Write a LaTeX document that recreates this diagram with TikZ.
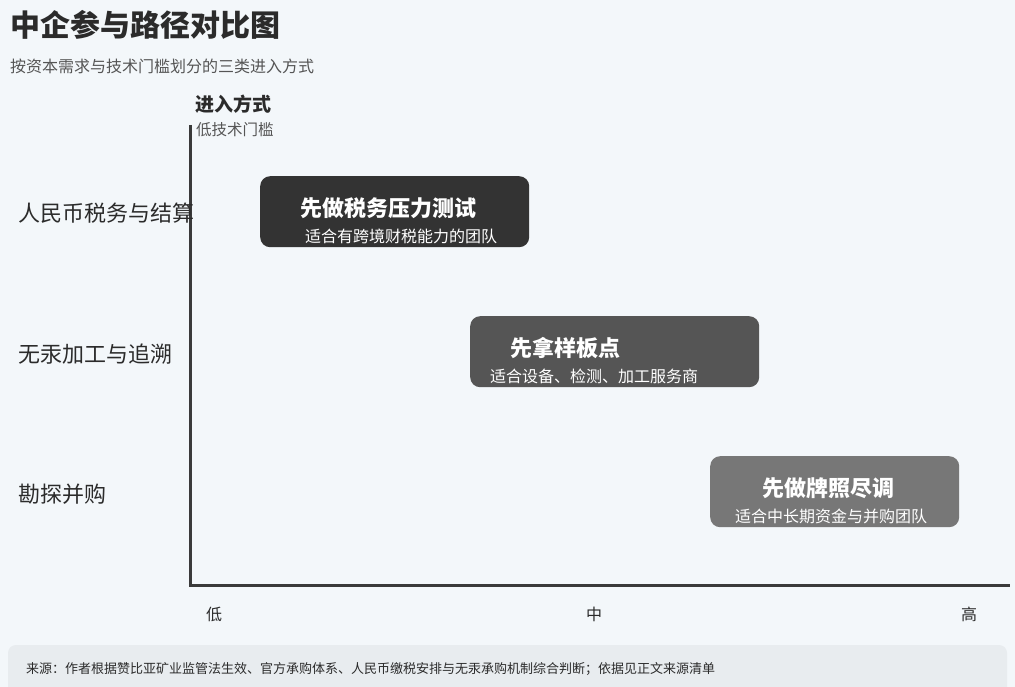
\documentclass[tikz,border=0pt]{standalone}
\usepackage{fontspec}
\setmainfont{Noto Sans CJK SC}
\usetikzlibrary{positioning}
\definecolor{pageBg}{HTML}{F3F7FA}
\definecolor{footBg}{HTML}{E8ECEF}
\definecolor{inkDark}{HTML}{2B2B2B}
\definecolor{inkMid}{HTML}{555555}
\definecolor{axisInk}{HTML}{3A3A3A}
\definecolor{pathA}{HTML}{333333}
\definecolor{pathB}{HTML}{555555}
\definecolor{pathC}{HTML}{777777}
\newcommand{\fsz}[1]{\fontsize{#1}{#1}\selectfont}
\tikzset{
  txt/.style={inner sep=0pt, anchor=west, text=inkDark},
  pathbox/.style={rectangle, rounded corners=10pt, anchor=north west, minimum height=71pt, inner sep=0pt},
  boxtitle/.style={inner sep=0pt, anchor=west, text=white, font=\fsz{22}\bfseries},
  boxnote/.style={inner sep=0pt, anchor=west, text=white, font=\fsz{16}},
  tick/.style={inner sep=0pt, text=inkDark, font=\fsz{16}}
}
\begin{document}
\begin{tikzpicture}
\begin{scope}[x=1pt, y=-1pt]
  % Page and footer band
  \fill[pageBg] (0,0) rectangle (1015,687);
  \useasboundingbox (0,0) rectangle (1015,687);
  \fill[footBg, rounded corners=8pt] (8,645) rectangle (1007,700);
  % Title block
  \node[txt, font=\fsz{30}\bfseries] (title) at (10,25) {中企参与路径对比图};
  \node[txt, text=inkMid, font=\fsz{16}] (subtitle) at (10,66) {按资本需求与技术门槛划分的三类进入方式};
  % Axes
  \coordinate (ytop) at (190,125);
  \coordinate (origin) at (190,585);
  \coordinate (xend) at (1010,585);
  \draw[axisInk, line width=3pt] (ytop) -- (origin) -- (xend);
  \node[txt, font=\fsz{19}\bfseries] (yhead) at (195,104) {进入方式};
  \node[txt, text=inkMid, font=\fsz{15.5}] (ynote) at (196,130) {低技术门槛};
  % Row labels
  \node[txt, font=\fsz{22}] (rowtax) at (18,213) {人民币税务与结算};
  \node[txt, font=\fsz{22}] (rowproc) at (18,354) {无汞加工与追溯};
  \node[txt, font=\fsz{22}] (rowmna) at (18,494) {勘探并购};
  % Column ticks
  \node[tick] (lowtick) at (214,614) {低};
  \node[tick] (midtick) at (594,614) {中};
  \node[tick] (hightick) at (969,614) {高};
  % Path boxes
  \node[pathbox, fill=pathA, minimum width=269pt] (taxbox) at (260,176) {};
  \node[boxtitle] (taxtitle) at ([xshift=40pt,yshift=-32pt]taxbox.north west) {先做税务压力测试};
  \node[boxnote] (taxnote) at ([xshift=45pt,yshift=-60pt]taxbox.north west) {适合有跨境财税能力的团队};
  \node[pathbox, fill=pathB, minimum width=289pt] (procbox) at (470,316) {};
  \node[boxtitle] (proctitle) at ([xshift=40pt,yshift=-32pt]procbox.north west) {先拿样板点};
  \node[boxnote] (procnote) at ([xshift=20pt,yshift=-60pt]procbox.north west) {适合设备、检测、加工服务商};
  \node[pathbox, fill=pathC, minimum width=249pt] (mnabox) at (710,456) {};
  \node[boxtitle] (mnatitle) at ([xshift=52pt,yshift=-32pt]mnabox.north west) {先做牌照尽调};
  \node[boxnote] (mnanote) at ([xshift=25pt,yshift=-60pt]mnabox.north west) {适合中长期资金与并购团队};
  % Source line
  \node[txt, text=inkDark, font=\fsz{13}] (source) at (26,669) {来源：作者根据赞比亚矿业监管法生效、官方承购体系、人民币缴税安排与无汞承购机制综合判断；依据见正文来源清单};
\end{scope}
\end{tikzpicture}
\end{document}
